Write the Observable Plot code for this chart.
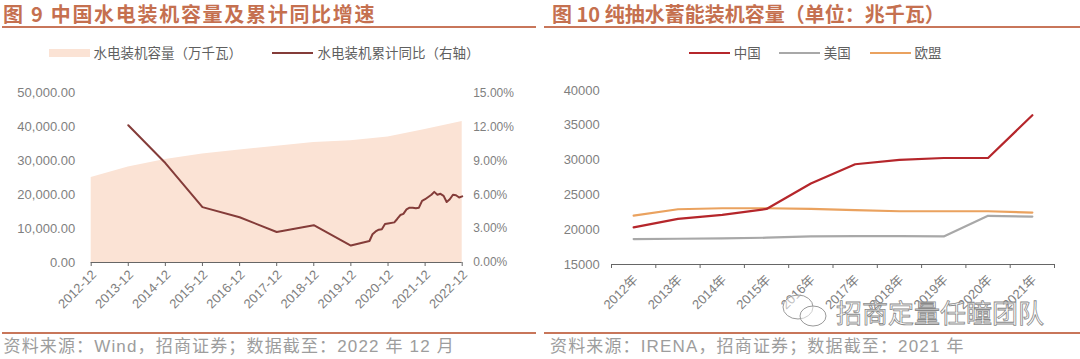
<!DOCTYPE html>
<html><head><meta charset="utf-8">
<script src="https://cdn.jsdelivr.net/npm/d3@7"></script>
<script src="https://cdn.jsdelivr.net/npm/@observablehq/plot@0.6"></script>
<style>
body{margin:0;background:#fff;}
#root{position:relative;width:1080px;height:359px;overflow:hidden;background:#fff;font-family:"Liberation Sans","Noto Sans CJK SC",sans-serif;}
.abs{position:absolute;white-space:nowrap;line-height:1;transform:translateY(-50%);}
.title{font-family:"Noto Sans CJK SC",sans-serif;font-weight:bold;font-size:20px;color:#c5704f;}
.rule{position:absolute;height:2px;background:#c8765a;}
.leg{font-family:"Noto Sans CJK SC",sans-serif;font-size:13.5px;color:#5f5f5f;}
.sw{position:absolute;}
.foot{font-family:"Liberation Sans","Noto Sans CJK SC",sans-serif;font-size:17px;color:#9d9d9d;letter-spacing:1.15px;}
.plot{position:absolute;top:70px;}
.wm{font-family:"Noto Sans CJK SC",sans-serif;font-size:26px;color:rgba(255,255,255,0.5);-webkit-text-stroke:0.8px #8a8a8a;}
</style></head>
<body>
<div id="root">
  <div class="abs title" style="left:3px;top:13.5px;letter-spacing:1.7px;">图 9 中国水电装机容量及累计同比增速</div>
  <div class="rule" style="left:2px;top:26px;width:534px;"></div>
  <div class="abs title" style="left:552px;top:13.5px;">图 10 纯抽水蓄能装机容量（单位：兆千瓦）</div>
  <div class="rule" style="left:544px;top:26px;width:536px;"></div>

  <div class="sw" style="left:48.5px;top:49px;width:41px;height:8px;background:#fbe3d5;"></div>
  <div class="abs leg" style="left:93.5px;top:53.3px;">水电装机容量（万千瓦）</div>
  <div class="sw" style="left:271.7px;top:52.3px;width:41px;height:2px;background:#843c39;"></div>
  <div class="abs leg" style="left:317.4px;top:53.3px;">水电装机累计同比（右轴）</div>

  <div id="legR"></div>

  <div id="left" class="plot" style="left:0px;"></div>
  <div id="right" class="plot" style="left:540px;"></div>

  <svg style="position:absolute;left:778px;top:292px;" width="56" height="38">
    <ellipse cx="20" cy="15" rx="15" ry="12" fill="rgba(255,255,255,0.5)" stroke="#9a9a9a" stroke-width="1"/>
    <ellipse cx="35" cy="24" rx="13" ry="10" fill="rgba(255,255,255,0.5)" stroke="#9a9a9a" stroke-width="1"/>
  </svg>
  <div class="abs wm" style="left:836px;top:312px;">招商定量任瞳团队</div>

  <div class="rule" style="left:2px;top:332px;width:534px;"></div>
  <div class="rule" style="left:544px;top:332px;width:536px;"></div>
  <div class="abs foot" style="left:3.5px;top:346px;">资料来源：Wind，招商证券；数据截至：2022 年 12 月</div>
  <div class="abs foot" style="left:550px;top:346px;">资料来源：IRENA，招商证券；数据截至：2021 年</div>
</div>
<script>
// ---------- Left chart data ----------
const capDates = ["2012-12","2013-12","2014-12","2015-12","2016-12","2017-12","2018-12","2019-12","2020-12","2021-12","2022-12"];
const capValues = [25100, 28200, 30400, 32000, 33200, 34300, 35400, 35900, 37000, 39200, 41600];
const yoyDates = ["2013-12","2014-12","2015-12","2016-12","2017-12","2018-12","2019-12",
  "2020-06","2020-07","2020-08","2020-09","2020-10","2020-11","2020-12",
  "2021-02","2021-03","2021-04","2021-05","2021-06","2021-07","2021-08","2021-09","2021-10","2021-11","2021-12",
  "2022-02","2022-03","2022-04","2022-05","2022-06","2022-07","2022-08","2022-09","2022-10","2022-11","2022-12"];
const yoyValues = [12.15, 8.8, 4.9, 4.0, 2.7, 3.3, 1.5,
  1.9, 2.5, 2.75, 2.9, 2.95, 3.4, 3.45,
  3.55, 3.85, 4.2, 4.3, 4.7, 4.85, 4.85, 4.8, 4.85, 5.45, 5.6,
  6.0, 6.25, 6.0, 6.08, 5.9, 5.35, 5.6, 6.0, 5.95, 5.75, 5.85];
const leftXTickLabels = ["2012-12","2013-12","2014-12","2015-12","2016-12","2017-12","2018-12","2019-12","2020-12","2021-12","2022-12"];
const leftYTicks = [0, 10000, 20000, 30000, 40000, 50000];
const leftYLabels = ["0.00","10,000.00","20,000.00","30,000.00","40,000.00","50,000.00"];
const rightYLabels = ["0.00%","3.00%","6.00%","9.00%","12.00%","15.00%"];
const CAP_MAX = 50000, PCT_MAX = 15;

// ---------- Right chart data ----------
const years = [2012, 2013, 2014, 2015, 2016, 2017, 2018, 2019, 2020, 2021];
const yearLabels = ["2012年","2013年","2014年","2015年","2016年","2017年","2018年","2019年","2020年","2021年"];
const seriesNames = ["中国", "美国", "欧盟"];
const seriesColors = ["#b5262b", "#a8a8a8", "#eaa25f"];
const chinaValues = [20330, 21550, 22130, 22980, 26640, 29400, 30020, 30300, 30300, 36440];
const usValues = [18660, 18700, 18750, 18850, 19040, 19090, 19090, 19040, 21990, 21890];
const euValues = [22030, 22940, 23080, 23080, 22990, 22800, 22650, 22650, 22650, 22460];
const rightYTicks = [15000, 20000, 25000, 30000, 35000, 40000];

const parse = s => new Date(Date.UTC(+s.slice(0,4), +s.slice(5,7) - 1, 1));
const capData = capDates.map((d, i) => ({date: parse(d), value: capValues[i]}));
const yoyData = yoyDates.map((d, i) => ({date: parse(d), value: yoyValues[i] * CAP_MAX / PCT_MAX}));
const leftTickDates = leftXTickLabels.map(parse);
const leftLabelOf = new Map(leftTickDates.map((d, i) => [+d, leftXTickLabels[i]]));

const leftPlot = Plot.plot({
  width: 540, height: 240,
  marginTop: 22.5, marginBottom: 48, marginLeft: 90.7, marginRight: 78.3,
  style: {fontFamily: "Liberation Sans, sans-serif", fontSize: "13px", color: "#7f7f7f", background: "transparent", overflow: "visible"},
  x: {type: "utc", domain: [leftTickDates[0], leftTickDates[leftTickDates.length - 1]]},
  y: {domain: [0, CAP_MAX]},
  marks: [
    Plot.areaY(capData, {x: "date", y: "value", fill: "#fbe3d5"}),
    Plot.line(yoyData, {x: "date", y: "value", stroke: "#843c39", strokeWidth: 2}),
    Plot.ruleY([0], {stroke: "#666", strokeWidth: 1}),
    Plot.axisY({ticks: leftYTicks, tickSize: 0, tickPadding: 16, tickFormat: d => leftYLabels[leftYTicks.indexOf(d)], label: null, fill: "#7f7f7f"}),
    Plot.axisY({anchor: "right", ticks: leftYTicks, tickSize: 0, tickPadding: 11, fontSize: 12, tickFormat: d => rightYLabels[leftYTicks.indexOf(d)], label: null, fill: "#7f7f7f"}),
    Plot.axisX({ticks: leftTickDates, tickSize: 4, tickFormat: () => "", stroke: "#666", label: null}),
    Plot.axisX({ticks: leftTickDates, tickFormat: d => leftLabelOf.get(+d), tickRotate: -45, tickSize: 0, tickPadding: 10, dx: 3, fill: "#7f7f7f", label: null})
  ]
});
document.getElementById("left").appendChild(leftPlot);

const rightData = [chinaValues, usValues, euValues].flatMap((vals, k) =>
  years.map((y, i) => ({year: y, value: vals[i], name: seriesNames[k]})));
const drawOrder = ["美国", "欧盟", "中国"];
rightData.sort((a, b) => drawOrder.indexOf(a.name) - drawOrder.indexOf(b.name));
const boundaries = years.map(y => y - 0.5).concat([years[years.length - 1] + 0.5]);

const rightPlot = Plot.plot({
  width: 540, height: 240,
  marginTop: 20, marginBottom: 46, marginLeft: 71, marginRight: 26,
  style: {fontFamily: "Liberation Sans, Noto Sans CJK SC, sans-serif", fontSize: "13px", color: "#7f7f7f", background: "transparent", overflow: "visible"},
  x: {domain: [boundaries[0], boundaries[boundaries.length - 1]]},
  y: {domain: [rightYTicks[0], rightYTicks[rightYTicks.length - 1]]},
  color: {domain: seriesNames, range: seriesColors},
  marks: [
    Plot.ruleY([rightYTicks[0]], {stroke: "#666", strokeWidth: 1}),
    Plot.axisX({ticks: boundaries, tickFormat: () => "", tickSize: 4, stroke: "#666", label: null}),
    Plot.axisX({ticks: years, tickFormat: d => yearLabels[years.indexOf(d)], tickSize: 0, tickPadding: 13, dx: 2, tickRotate: -45, fill: "#7f7f7f", label: null}),
    Plot.axisY({ticks: rightYTicks, tickSize: 0, tickPadding: 11.7, tickFormat: d => String(d), fill: "#7f7f7f", label: null}),
    Plot.line(rightData, {x: "year", y: "value", z: "name", stroke: "name", strokeWidth: 2.2})
  ]
});
document.getElementById("right").appendChild(rightPlot);

// right legend
const legR = document.getElementById("legR");
const swX = [688.8, 778.8, 869.5];
seriesNames.forEach((n, i) => {
  const s = document.createElement("div");
  s.className = "sw";
  s.style.cssText = `left:${swX[i]}px;top:52.3px;width:41px;height:2px;background:${seriesColors[i]};`;
  legR.appendChild(s);
  const t = document.createElement("div");
  t.className = "abs leg";
  t.style.cssText = `left:${swX[i] + 45}px;top:53.3px;`;
  t.textContent = n;
  legR.appendChild(t);
});
</script>
</body></html>
